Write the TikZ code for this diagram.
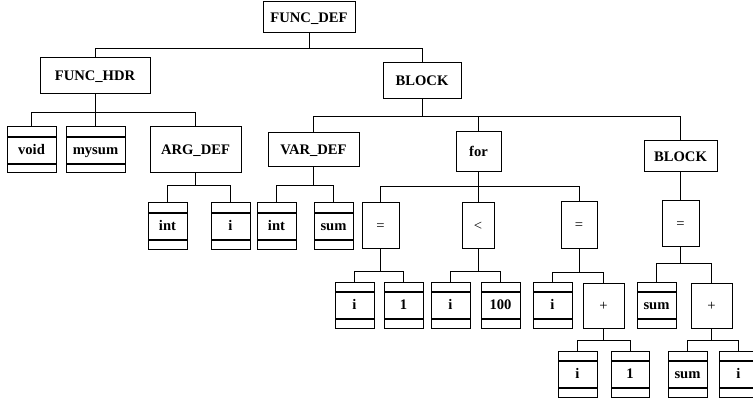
\documentclass[tikz,border=0pt]{standalone}
\usepackage{fontspec}
\setmainfont{Liberation Serif}
\begin{document}
\begin{tikzpicture}[x=1pt,y=-1pt,
  every node/.style={inner sep=0pt,text height=9.6pt,text depth=0pt,font=\fontsize{14.6}{16}\selectfont\bfseries},
  box/.style={draw,line width=1pt,minimum width=#1},
  leaf/.style={draw,line width=1pt,minimum width=39,minimum height=46,
    path picture={
      \draw[line width=1.4pt] ([yshift=-10pt]path picture bounding box.north west) -- ([yshift=-10pt]path picture bounding box.north east);
      \draw[line width=1.4pt] ([yshift=9pt]path picture bounding box.south west) -- ([yshift=9pt]path picture bounding box.south east);}},
  op/.style={draw,line width=1pt,font=\fontsize{14.6}{16}\selectfont\mdseries},
  edge/.style={line width=1pt}]
\useasboundingbox (0,0) rectangle (753,401);
\newcommand\conn[3]{\draw[edge] (#1.south) -- (#1.south |- 0,#3) -| (#2.north);}
% nodes
\node[box=92,minimum height=31] (fdef) at (309,17.5) {FUNC\_DEF};
\node[box=110,minimum height=36] (fhdr) at (95,76) {FUNC\_HDR};
\node[box=78,minimum height=36] (blk) at (422,81) {BLOCK};
\node[leaf,minimum width=49] (void) at (31.5,150) {void};
\node[leaf,minimum width=59] (mysum) at (95.5,150) {mysum};
\node[box=91,minimum height=46] (adef) at (195.5,150) {ARG\_DEF};
\node[box=91,minimum height=34] (vdef) at (313.5,150) {VAR\_DEF};
\node[box=45,minimum height=40] (for) at (478.5,152) {for};
\node[box=73,minimum height=31] (blk2) at (680.5,156.5) {BLOCK};
\node[leaf] (aint) at (167.5,226) {int};
\node[leaf] (ai) at (230.5,226) {i};
\node[leaf] (vint) at (276.5,226) {int};
\node[leaf] (vsum) at (333.5,226) {sum};
\node[op,minimum width=37,minimum height=45] (eq1) at (380.5,225.5) {=};
\node[op,minimum width=32,minimum height=45] (lt) at (478,225.5) {<};
\node[op,minimum width=36,minimum height=46] (eq2) at (579,225) {=};
\node[op,minimum width=37,minimum height=45] (eq3) at (680.5,223.5) {=};
\node[leaf] (i1) at (354.5,305) {i};
\node[leaf] (one1) at (403.5,305) {1};
\node[leaf] (i2) at (450.5,305) {i};
\node[leaf] (hund) at (500.5,305) {100};
\node[leaf] (i3) at (552.5,305) {i};
\node[op,minimum width=41,minimum height=45] (plus1) at (603.5,305.5) {+};
\node[leaf] (sum1) at (656.5,305) {sum};
\node[op,minimum width=41,minimum height=45] (plus2) at (711.5,305.5) {+};
\node[leaf] (i4) at (577.5,374) {i};
\node[leaf,minimum width=38] (one2) at (630,374) {1};
\node[leaf] (sum2) at (687.5,374) {sum};
\node[leaf] (i5) at (738.5,374) {i};
% connectors
\conn{fdef}{fhdr}{49}
\conn{fdef}{blk}{49}
\conn{fhdr}{void}{113}
\conn{fhdr}{mysum}{113}
\conn{fhdr}{adef}{113}
\conn{blk}{vdef}{117}
\conn{blk}{for}{117}
\conn{blk}{blk2}{117}
\conn{adef}{aint}{186}
\conn{adef}{ai}{186}
\conn{vdef}{vint}{186}
\conn{vdef}{vsum}{186}
\conn{for}{eq1}{187}
\conn{for}{lt}{187}
\conn{for}{eq2}{187}
\draw[edge] (blk2.south) -- (eq3.north);
\conn{eq1}{i1}{271}
\conn{eq1}{one1}{271}
\conn{lt}{i2}{271}
\conn{lt}{hund}{271}
\conn{eq2}{i3}{272}
\conn{eq2}{plus1}{272}
\conn{eq3}{sum1}{263}
\conn{eq3}{plus2}{263}
\conn{plus1}{i4}{340}
\conn{plus1}{one2}{340}
\conn{plus2}{sum2}{340}
\conn{plus2}{i5}{340}
\end{tikzpicture}
\end{document}
